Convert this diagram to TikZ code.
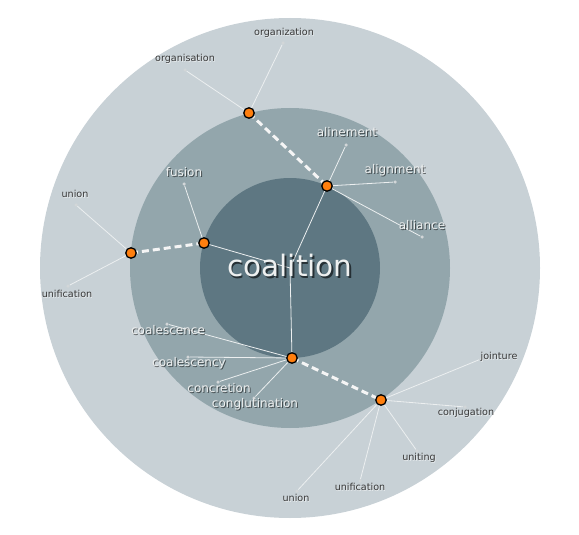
\documentclass[tikz,border=0pt]{standalone}
\usepackage{fontspec}
\setmainfont{DejaVu Sans}
\definecolor{outerc}{RGB}{200,209,214}
\definecolor{midc}{RGB}{147,166,172}
\definecolor{innerc}{RGB}{94,119,130}
\definecolor{hubfill}{RGB}{255,127,14}
\definecolor{leafline}{RGB}{236,239,240}
\definecolor{leafdot}{RGB}{210,214,216}
\definecolor{darklabel}{RGB}{55,55,55}
\definecolor{lightlabel}{RGB}{238,240,240}
\tikzset{
  hub/.style={circle, draw=black, line width=1.3pt, fill=hubfill, minimum size=10.5pt, inner sep=0pt},
  leaf/.style={circle, fill=leafdot, minimum size=3.5pt, inner sep=0pt},
  spoke/.style={draw=leafline, line width=0.8pt},
  link/.style={draw=white!92!gray, line width=3pt, dash pattern=on 7pt off 4pt},
  midlbl/.style={text=lightlabel, inner sep=0pt, font=\fontsize{12}{12}\selectfont},
  midsh/.style={text=black, text opacity=0.55, inner sep=0pt, xshift=1pt, yshift=-1pt, font=\fontsize{12}{12}\selectfont},
  outlbl/.style={text=darklabel, inner sep=0pt, font=\fontsize{9.6}{9.6}\selectfont},
  outsh/.style={text=white, text opacity=0.6, inner sep=0pt, xshift=0.7pt, yshift=-0.7pt, font=\fontsize{9.6}{9.6}\selectfont},
  titlbl/.style={text=lightlabel, inner sep=0pt, font=\fontsize{29.5}{29.5}\selectfont},
  titsh/.style={text=black, text opacity=0.6, inner sep=0pt, xshift=1.6pt, yshift=-1.6pt, font=\fontsize{29.5}{29.5}\selectfont},
}
\newcommand\mlbl[4]{\node[midsh] (#1s) at (#2,#3) {#4};\node[midlbl] (#1) at (#2,#3) {#4};}
\newcommand\olbl[4]{\node[outsh] (#1s) at (#2,#3) {#4};\node[outlbl] (#1) at (#2,#3) {#4};}
\begin{document}
\begin{tikzpicture}[x=1pt, y=-1pt]
\useasboundingbox (0,0) rectangle (579,535);
% rings
\fill[outerc] (290,268) circle (250);
\fill[midc] (290,268) circle (160);
\fill[innerc] (290,268) circle (90);
\coordinate (ctr) at (290,268);
% hubs (positions)
\coordinate (pA) at (249,113);
\coordinate (pB) at (327,186);
\coordinate (pC) at (131,253);
\coordinate (pD) at (204,243);
\coordinate (pE) at (292,358);
\coordinate (pF) at (381,400);
% leaves
\node[leaf] (l1) at (185,70) {};
\node[leaf] (l2) at (283,43) {};
\node[leaf] (l3) at (346,145) {};
\node[leaf] (l4) at (395,182) {};
\node[leaf] (l5) at (422,237) {};
\node[leaf] (l6) at (76,205) {};
\node[leaf] (l7) at (68,286) {};
\node[leaf] (l8) at (184,184) {};
\node[leaf] (l9) at (167,324) {};
\node[leaf] (l10) at (188,357) {};
\node[leaf] (l11) at (218,382) {};
\node[leaf] (l12) at (254,398) {};
\node[leaf] (l13) at (481,359) {};
\node[leaf] (l14) at (465,407) {};
\node[leaf] (l15) at (417,451) {};
\node[leaf] (l16) at (360,481) {};
\node[leaf] (l17) at (297,491) {};
% spokes
\draw[spoke] (pA) -- (l1);
\draw[spoke] (pA) -- (l2);
\draw[spoke] (pB) -- (l3);
\draw[spoke] (pB) -- (l4);
\draw[spoke] (pB) -- (l5);
\draw[spoke] (pC) -- (l6);
\draw[spoke] (pC) -- (l7);
\draw[spoke] (pD) -- (l8);
\draw[spoke] (pE) -- (l9);
\draw[spoke] (pE) -- (l10);
\draw[spoke] (pE) -- (l11);
\draw[spoke] (pE) -- (l12);
\draw[spoke] (pF) -- (l13);
\draw[spoke] (pF) -- (l14);
\draw[spoke] (pF) -- (l15);
\draw[spoke] (pF) -- (l16);
\draw[spoke] (pF) -- (l17);
\draw[spoke] (pB) -- (ctr);
\draw[spoke] (pD) -- (ctr);
\draw[spoke] (pE) -- (ctr);
% dashed links
\draw[link] (pA) -- (pB);
\draw[link] (pC) -- (pD);
\draw[link] (pE) -- (pF);
% labels
\node[titsh] (tits) at (290,266) {coalition};
\node[titlbl] (tit) at (290,266) {coalition};
\mlbl{t3}{347}{132}{alinement}
\mlbl{t4}{395}{170}{alignment}
\mlbl{t5}{422}{225}{alliance}
\mlbl{t8}{184}{172}{fusion}
\mlbl{t9}{168}{330}{coalescence}
\mlbl{t10}{189}{363}{coalescency}
\mlbl{t11}{219}{388}{concretion}
\mlbl{t12}{255}{404}{conglutination}
\olbl{t1}{185}{59}{organisation}
\olbl{t2}{284}{33}{organization}
\olbl{t6}{75}{194}{union}
\olbl{t7}{67}{294}{unification}
\olbl{t13}{499}{357}{jointure}
\olbl{t14}{466}{413}{conjugation}
\olbl{t15}{419}{458}{uniting}
\olbl{t16}{360}{487}{unification}
\olbl{t17}{296}{498}{union}
% hubs
\node[hub] (A) at (pA) {};
\node[hub] (B) at (pB) {};
\node[hub] (C) at (pC) {};
\node[hub] (D) at (pD) {};
\node[hub] (E) at (pE) {};
\node[hub] (F) at (pF) {};
\end{tikzpicture}
\end{document}
